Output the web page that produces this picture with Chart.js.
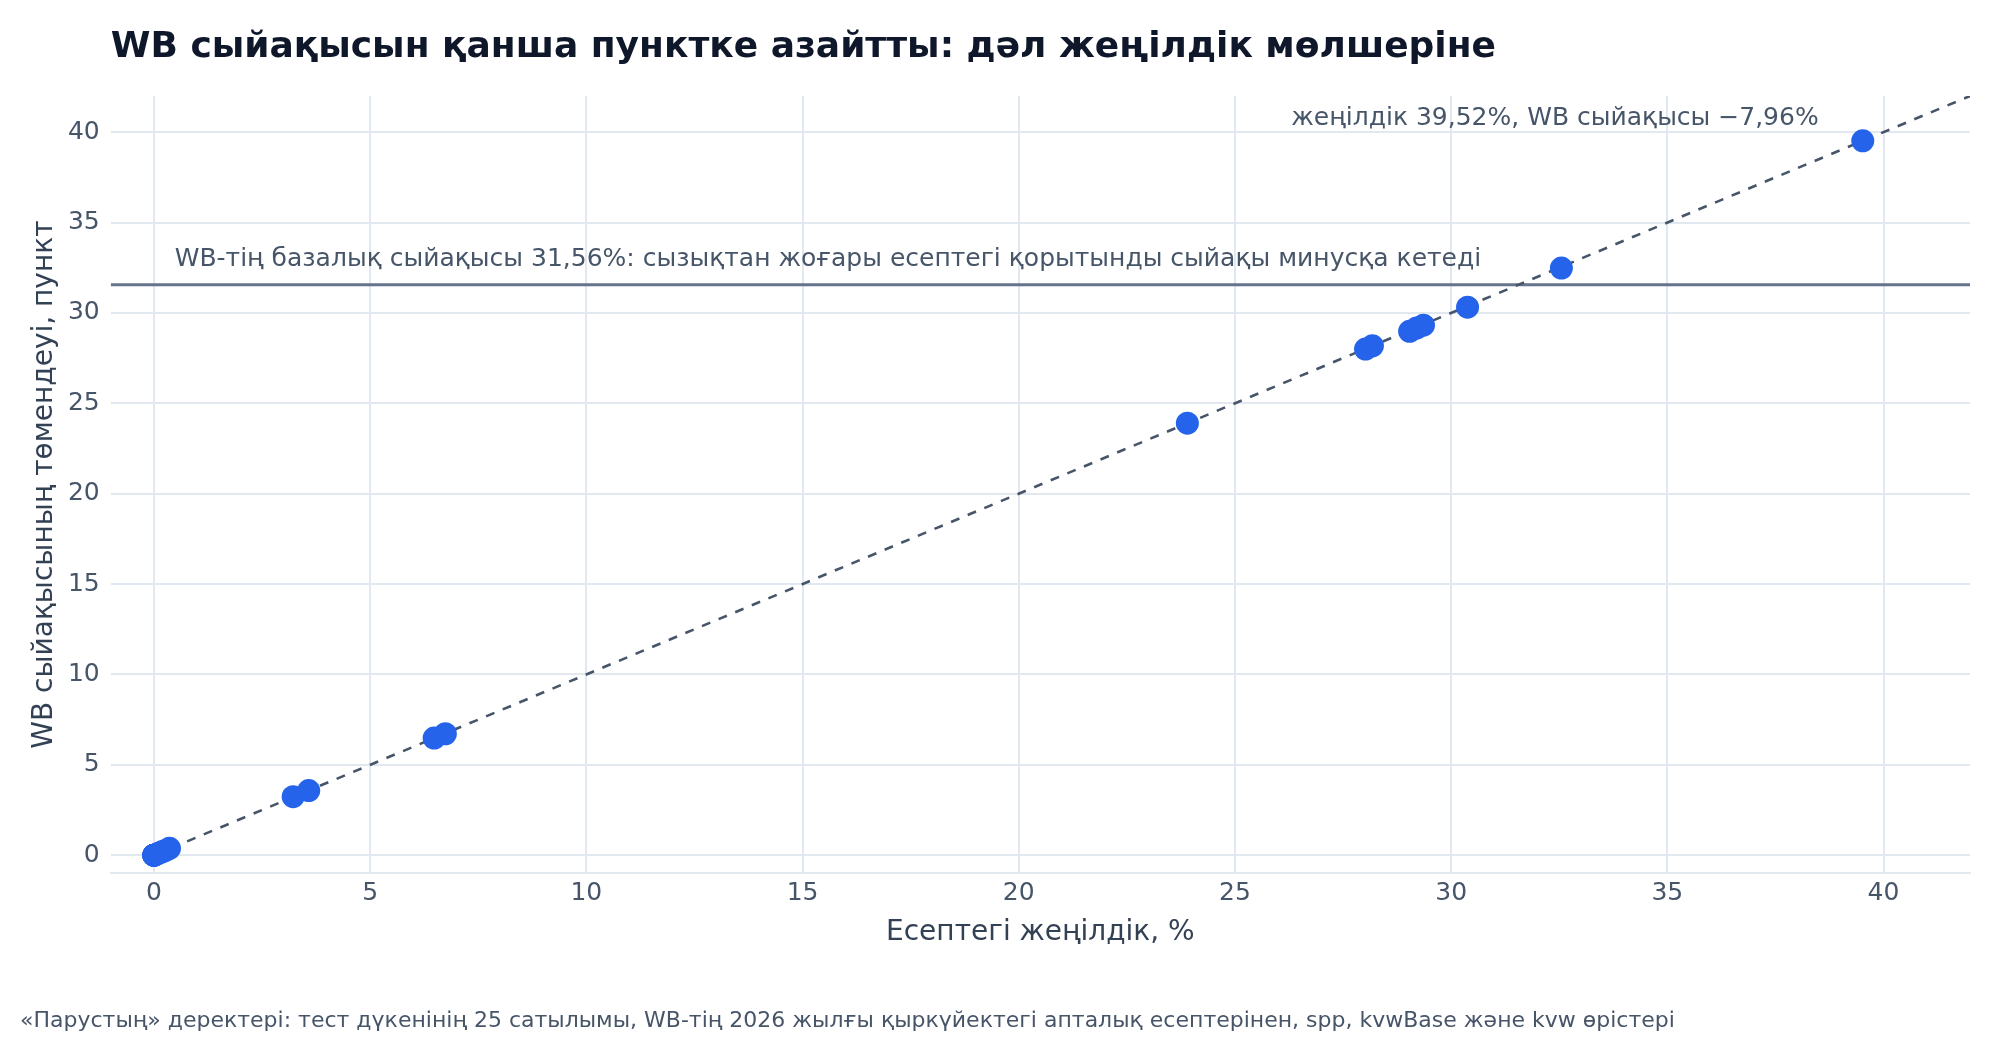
<!DOCTYPE html>
<html>
<head>
<meta charset="utf-8">
<script src="https://cdn.jsdelivr.net/npm/chart.js@4.4.1/dist/chart.umd.min.js"></script>
<style>
  html, body { margin: 0; padding: 0; background: #ffffff; }
  #wrap { width: 2000px; height: 1040px; }
</style>
</head>
<body>
<div id="wrap"><canvas id="chart" width="2000" height="1040"></canvas></div>
<script>
// discount in the report, % (x) and drop of WB commission, points (y)
var discountX = [0, 0, 0, 0, 0, 0, 0, 0.06, 0.12, 0.2, 0.28, 0.36,
                 3.22, 3.58, 6.48, 6.74, 23.9, 28.02, 28.18, 29.04, 29.2, 29.36, 30.38, 32.55, 39.52];
var rewardDropY = [0, 0, 0, 0, 0, 0, 0, 0.06, 0.12, 0.2, 0.28, 0.38,
                   3.24, 3.58, 6.48, 6.72, 23.9, 28.0, 28.18, 28.98, 29.16, 29.32, 30.32, 32.48, 39.52];
var diagonalX = [0, 42];
var diagonalY = [0, 42];
var baseReward = 31.56;
var xTicks = [0, 5, 10, 15, 20, 25, 30, 35, 40];
var yTicks = [0, 5, 10, 15, 20, 25, 30, 35, 40];

var titleText = "WB сыйақысын қанша пунктке азайтты: дәл жеңілдік мөлшеріне";
var footerText = "«Парустың» деректері: тест дүкенінің 25 сатылымы, WB-тің 2026 жылғы қыркүйектегі апталық есептерінен, spp, kvwBase және kvw өрістері";
var baseNote = "WB-тің базалық сыйақысы 31,56%: сызықтан жоғары есептегі қорытынды сыйақы минусқа кетеді";
var maxNote = "жеңілдік 39,52%, WB сыйақысы −7,96%";

var FONT = "'DejaVu Sans', 'Noto Sans', sans-serif";

var points = discountX.map(function(x, i) { return {x: x, y: rewardDropY[i]}; });
var diagonal = diagonalX.map(function(x, i) { return {x: x, y: diagonalY[i]}; });
var baseLine = [{x: -1, y: baseReward}, {x: 42, y: baseReward}];

var notesPlugin = {
    id: "notes",
    afterDatasetsDraw: function(chart) {
        var ctx = chart.ctx;
        var xs = chart.scales.x, ys = chart.scales.y;
        ctx.save();
        ctx.font = "25px " + FONT;
        ctx.fillStyle = "#475569";
        ctx.textBaseline = "alphabetic";
        ctx.textAlign = "left";
        ctx.fillText(baseNote, xs.getPixelForValue(0.48), ys.getPixelForValue(32.6));
        ctx.textAlign = "right";
        ctx.fillText(maxNote, xs.getPixelForValue(38.5), ys.getPixelForValue(40.4));
        ctx.restore();
    }
};

var ctx = document.getElementById("chart").getContext("2d");
var chart = new Chart(ctx, {
    type: "scatter",
    data: {
        datasets: [{
            label: "Сатылымдар",
            data: points,
            backgroundColor: "#2563eb",
            borderWidth: 0,
            pointRadius: 11.5,
            pointHoverRadius: 11.5,
            order: 0
        }, {
            type: "line",
            label: "y = x",
            data: diagonal,
            borderColor: "#475569",
            borderWidth: 2.6,
            borderDash: [9, 9],
            pointRadius: 0,
            fill: false,
            order: 1
        }, {
            type: "line",
            label: "база",
            data: baseLine,
            borderColor: "#64748b",
            borderWidth: 3,
            pointRadius: 0,
            fill: false,
            order: 2
        }]
    },
    options: {
        responsive: false,
        animation: false,
        events: [],
        layout: {
            padding: { left: 20, right: 30, top: 0, bottom: 0 }
        },
        plugins: {
            legend: { display: false },
            tooltip: { enabled: false },
            title: {
                display: true,
                text: titleText,
                align: "start",
                fullSize: false,
                color: "#0f172a",
                font: { size: 36, weight: "bold", family: FONT },
                padding: { top: 26, bottom: 26.8 }
            },
            subtitle: {
                display: true,
                position: "bottom",
                text: footerText,
                align: "start",
                color: "#475569",
                font: { size: 22, family: FONT },
                padding: { top: 34.2, bottom: 5.4 }
            }
        },
        scales: {
            x: {
                type: "linear",
                min: -1,
                max: 42,
                afterBuildTicks: function(axis) { axis.ticks = xTicks.map(function(v) { return {value: v}; }); },
                afterFit: function(scale) { scale.height = 100.7; },
                ticks: {
                    color: "#475569",
                    padding: 5,
                    font: { size: 25, family: FONT }
                },
                grid: {
                    color: "#e2e8f0",
                    lineWidth: 2,
                    drawTicks: false
                },
                border: { display: true, color: "#e2e8f0", width: 2 },
                title: {
                    display: true,
                    text: "Есептегі жеңілдік, %",
                    color: "#334155",
                    font: { size: 28, family: FONT },
                    padding: { top: 0, bottom: 24 }
                }
            },
            y: {
                type: "linear",
                min: -1,
                max: 42,
                afterBuildTicks: function(axis) { axis.ticks = yTicks.map(function(v) { return {value: v}; }); },
                afterFit: function(scale) { scale.width = 90.7; },
                ticks: {
                    color: "#475569",
                    padding: 11,
                    font: { size: 25, family: FONT }
                },
                grid: {
                    color: "#e2e8f0",
                    lineWidth: 2,
                    drawTicks: false
                },
                border: { display: false },
                title: {
                    display: true,
                    text: "WB сыйақысының төмендеуі, пункт",
                    color: "#334155",
                    font: { size: 28, family: FONT },
                    padding: { top: 8, bottom: 0 }
                }
            }
        }
    },
    plugins: [notesPlugin]
});
</script>
</body>
</html>
